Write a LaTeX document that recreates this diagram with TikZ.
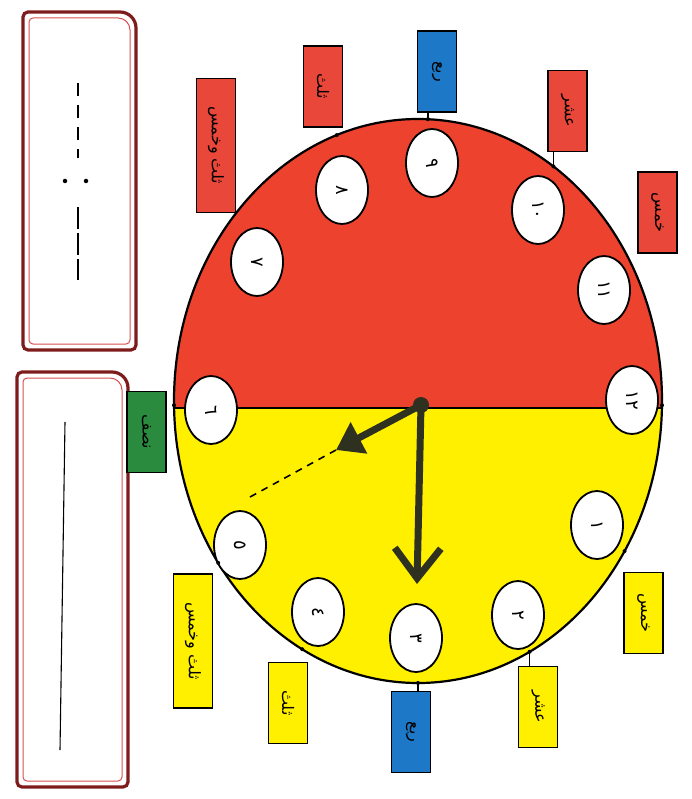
\documentclass[tikz,border=0pt]{standalone}
\usepackage{fontspec}
\newfontfamily\arabicfont[Script=Arabic]{DejaVu Sans}
\TeXXeTstate=1
\usetikzlibrary{shapes.geometric,arrows.meta}
\definecolor{clkred}{HTML}{EC422E}
\definecolor{lblred}{HTML}{E9473A}
\definecolor{clkyellow}{HTML}{FFF000}
\definecolor{clkblue}{HTML}{1E78C8}
\definecolor{clkgreen}{HTML}{2A8A3E}
\definecolor{handcol}{HTML}{2E3020}
\definecolor{boxdark}{HTML}{7E1C1C}
\definecolor{boxlight}{HTML}{D65050}
\begin{document}
\begin{tikzpicture}[x=1pt,y=-1pt,
  lbl/.style={draw=black, line width=1.6pt, rotate=-90, minimum width=81pt,
    minimum height=39pt, inner sep=0pt, outer sep=0pt,
    font=\arabicfont\fontsize{16}{16}\selectfont},
  lbllong/.style={lbl, minimum width=134pt},
  lred/.style={fill=lblred}, lyel/.style={fill=clkyellow},
  lblue/.style={fill=clkblue}, lgreen/.style={fill=clkgreen},
  num/.style={ellipse, draw=black, fill=white, line width=1.8pt, rotate=-90,
    minimum width=68pt, minimum height=52pt, inner sep=0pt, outer sep=0pt,
    font=\arabicfont\fontsize{18}{18}\selectfont},
  tick/.style={circle, fill=black, inner sep=0pt, minimum size=4pt},
  stem/.style={line width=1.6pt},
  hand/.style={line width=7pt, draw=handcol, fill=handcol},
  boxout/.style={draw=boxdark, line width=3.2pt},
  boxin/.style={draw=boxlight, line width=1pt}
]
\useasboundingbox (0,0) rectangle (691,799);

% ---- left boxes (y axis points down: arc angle 270 = up, 90 = down) ----
\draw[boxout] (23,345) -- (23,17) arc[start angle=180,end angle=270,radius=5]
  -- (120,12) arc[start angle=270,end angle=360,radius=16]
  -- (136,345) arc[start angle=0,end angle=90,radius=5]
  -- (28,350) arc[start angle=90,end angle=180,radius=5] -- cycle;
\draw[boxin] (29,340) -- (29,22) arc[start angle=180,end angle=270,radius=4]
  -- (118,18) arc[start angle=270,end angle=360,radius=12]
  -- (130,340) arc[start angle=0,end angle=90,radius=4]
  -- (33,344) arc[start angle=90,end angle=180,radius=4] -- cycle;
\draw[line width=1.8pt, dash pattern=on 13pt off 9pt] (78,83) -- (78,158);
\node[tick, minimum size=4.5pt] (col1) at (65,181) {};
\node[tick, minimum size=4.5pt] (col2) at (86,181) {};
\draw[line width=1.8pt, dash pattern=on 22pt off 4pt] (78,207) -- (78,280);

\draw[boxout] (17,782) -- (17,377) arc[start angle=180,end angle=270,radius=5]
  -- (112,372) arc[start angle=270,end angle=360,radius=16]
  -- (128,782) arc[start angle=0,end angle=90,radius=5]
  -- (22,787) arc[start angle=90,end angle=180,radius=5] -- cycle;
\draw[boxin] (23,777) -- (23,382) arc[start angle=180,end angle=270,radius=4]
  -- (110,378) arc[start angle=270,end angle=360,radius=12]
  -- (122,777) arc[start angle=0,end angle=90,radius=4]
  -- (27,781) arc[start angle=90,end angle=180,radius=4] -- cycle;
\draw[line width=1.1pt] (65,422) -- (60,750);

% ---- clock face ----
\node[ellipse, draw=black, line width=2.2pt, minimum width=488pt, minimum height=564pt,
  inner sep=0pt, outer sep=0pt,
  path picture={
    \fill[clkred] (path picture bounding box.north west) rectangle ([yshift=-7pt]path picture bounding box.east);
    \fill[clkyellow] ([yshift=-7pt]path picture bounding box.west) rectangle (path picture bounding box.south east);
  }] (clock) at (418,401) {};
\draw[line width=2pt] ([yshift=-7pt]clock.west) -- ([yshift=-7pt]clock.east);

% ---- numbers ----
\node[num] (o12) at (632,400) {١٢};
\node[num] (o1) at (597,525) {١};
\node[num] (o2) at (518,615) {٢};
\node[num] (o3) at (416,638) {٣};
\node[num] (o4) at (318,612) {٤};
\node[num] (o5) at (240,545) {٥};
\node[num] (o6) at (211,410) {٦};
\node[num] (o7) at (257,262) {٧};
\node[num] (o8) at (342,190) {٨};
\node[num] (o9) at (432,163) {٩};
\node[num] (o10) at (538,210) {١٠};
\node[num] (o11) at (604,290) {١١};

% ---- labels ----
\node[lbl, lblue] (l9) at (437,71.5) {\beginR ربع\endR};
\node[lbl, lred] (l8) at (323,86.5) {\beginR ثلث\endR};
\node[lbllong, lred] (l7) at (216,145.5) {\beginR ثلث وخمس\endR};
\node[lbl, lred] (l10) at (567.5,111) {\beginR عشر\endR};
\node[lbl, lred] (l11) at (657.5,212.5) {\beginR خمس\endR};
\node[lbl, lyel] (l1) at (643.5,613) {\beginR خمس\endR};
\node[lbl, lyel] (l2) at (538,707) {\beginR عشر\endR};
\node[lbl, lblue] (l3) at (411,732) {\beginR ربع\endR};
\node[lbl, lyel] (l4) at (288,703) {\beginR ثلث\endR};
\node[lbllong, lyel] (l5) at (193,641) {\beginR ثلث وخمس\endR};
\node[lbl, lgreen] (l6) at (146.5,432) {\beginR نصف\endR};

% ---- ticks and stems ----
\node[tick] (t9) at (clock.88.2) {};
\node[tick] (t8) at (clock.107.1) {};
\node[tick] (t10) at (clock.60.4) {};
\node[tick] (t12) at (clock.-1.5) {};
\node[tick] (t1) at (clock.-36.7) {};
\node[tick] (t2) at (clock.-66.8) {};
\node[tick] (t3) at (clock.-90.2) {};
\node[tick] (t4) at (clock.-115.1) {};
\node[tick] (t5) at (clock.-141.1) {};
\node[tick] (t6) at (clock.181.7) {};
\draw[stem] (t9.center) -- (t9.center |- l9.east);
\draw[stem] (t10.center) -- (t10.center |- l10.east);
\draw[stem] (t3.center) -- (t3.center |- l3.west);
\draw[stem] (t2.center) -- (t2.center |- l2.west);

% ---- hands ----
\coordinate (hourtip) at (336,450);
\coordinate (mintip) at (417,584);
\coordinate (dashend) at (250,497);
\draw[line width=1.6pt, dash pattern=on 7pt off 6pt] (hourtip) -- (dashend);
\draw[hand, -{Triangle[length=26pt,width=34pt]}] (421,405) -- (hourtip);
\draw[hand, line cap=round, -{Straight Barb[length=30pt,width=46pt,line width=7pt]}] (421,405) -- (mintip);
\node[circle, fill=handcol, minimum size=16pt, inner sep=0pt] (ctr) at (421,405) {};
\end{tikzpicture}
\end{document}
